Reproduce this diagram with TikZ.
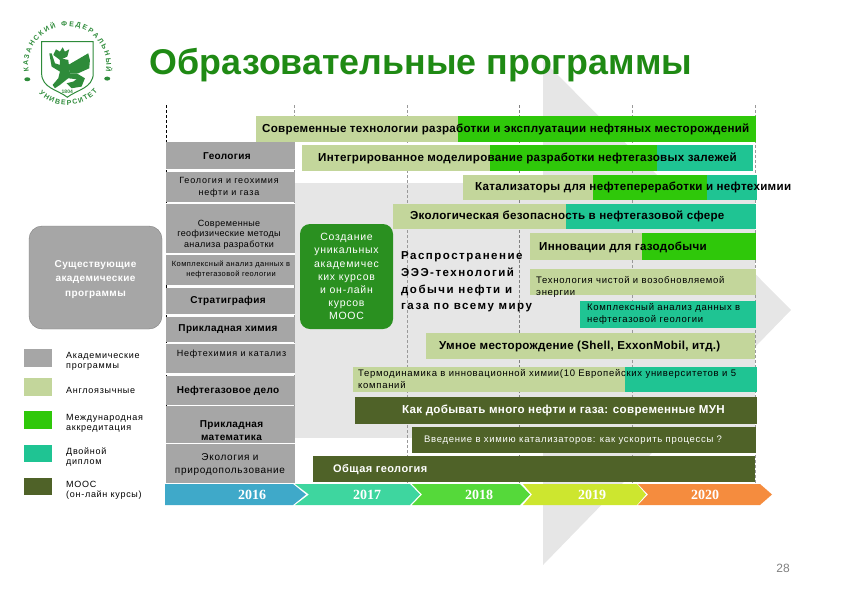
\documentclass[tikz,border=0pt]{standalone}
\usepackage{fontspec}
\setmainfont{Liberation Sans}
\newfontfamily\yearfont{Liberation Serif}
\usetikzlibrary{positioning, calc, decorations.text}

\definecolor{progGray}{HTML}{A6A6A6}
\definecolor{engKhaki}{HTML}{C3D69B}
\definecolor{accGreen}{HTML}{2FC80A}
\definecolor{dualTeal}{HTML}{1FC493}
\definecolor{moocOlive}{HTML}{4F6228}
\definecolor{panelGray}{HTML}{E6E6E6}
\definecolor{titleGreen}{HTML}{1F8A14}
\definecolor{logoGreen}{HTML}{2E8B3A}

\tikzset{
  progbig/.style={inner sep=0pt, align=center, text=black, font=\fontsize{10}{13}\bfseries\addfontfeature{LetterSpace=3.5}},
  progsmall/.style={inner sep=0pt, align=center, text=black, font=\fontsize{9}{12}\selectfont\addfontfeature{LetterSpace=9}},
  barbig/.style={anchor=west, inner sep=0pt, align=left, text=black, font=\fontsize{11.6}{13}\bfseries\addfontfeature{LetterSpace=2.5}},
  barsmall/.style={anchor=west, inner sep=0pt, align=left, text=black, font=\fontsize{9.5}{12}\selectfont\addfontfeature{LetterSpace=7.5}},
  legendbox/.style={anchor=north west, minimum width=28pt, inner sep=0pt},
  legendtext/.style={anchor=west, inner sep=0pt, align=left, font=\fontsize{9}{10}\selectfont\addfontfeature{LetterSpace=8}},
}

\begin{document}
\begin{tikzpicture}[x=1pt, y=-1pt]
\useasboundingbox (0,0) rectangle (842,595);

% background
\fill[panelGray] (543,60) -- (791,310) -- (543,565) -- cycle;
\fill[panelGray] (295,183) rectangle (755,438);
\foreach \xa/\col in {166/black, 294/gray!80, 407/gray!80, 519/gray, 632/gray!80, 755/gray!80}
  \draw[\col, densely dashed, line width=0.6pt] (\xa,105) -- (\xa,483);

% logo
\path[decorate, decoration={text along path, text align={fit to path},
  text={|\fontsize{7}{8}\bfseries\color{logoGreen}|КАЗАНСКИЙ ФЕДЕРАЛЬНЫЙ}}]
  (28.9,71.8) arc[start angle=190, end angle=-10, radius=39pt];
\path[decorate, decoration={text along path, text align={fit to path},
  text={|\fontsize{7}{8}\bfseries\color{logoGreen}|УНИВЕРСИТЕТ}}]
  (39,93.3) arc[start angle=225, end angle=319, radius=40pt];
\begin{scope}[shift={(10,10)}, x=0.333pt, y=-0.333pt]
\draw[logoGreen, line width=1pt] (95,95) -- (250,95) -- (250,190) .. controls (250,235) and (200,240) .. (172,262) .. controls (145,240) and (95,235) .. (95,190) -- cycle;
\fill[logoGreen] (138,118) -- (150,125) -- (158,112) -- (165,125) -- (178,118) -- (172,140) -- (150,150) -- (130,135) -- cycle;
\fill[logoGreen] (175,165) -- (235,130) -- (240,150) -- (238,175) -- (205,190) -- (180,190) -- cycle;
\fill[logoGreen] (150,145) -- (175,150) -- (180,190) -- (200,190) -- (225,205) -- (215,230) -- (185,235) -- (170,220) -- (190,215) -- (200,208) -- (175,205) -- (150,225) -- (135,235) -- (128,225) -- (145,205) -- (150,185) -- (125,170) -- (118,130) -- (125,130) -- (135,160) -- (150,165) -- cycle;
\fill[logoGreen] (52,208) ellipse[x radius=9, y radius=6];
\fill[logoGreen] (292,206) ellipse[x radius=9, y radius=6];
\node[text=logoGreen, inner sep=0pt, font=\fontsize{5}{6}\bfseries] (logoyear) at (172,245) {1804};
\end{scope}

% title
\node[inner sep=0pt, text=titleGreen, font=\fontsize{35.8}{38}\bfseries] (title) at (421,65.5) {Образовательные программы};

% left column
\foreach \ya/\yb in {142/169, 172/202, 204/253, 255/285, 288/314, 317/342, 344/373, 376/405, 406/443, 444/483}
  \fill[progGray] (166,\ya) rectangle (295,\yb);
\node[progbig] (geol) at (227,156) {Геология};
\node[progsmall] (geochem) at (229,187) {Геология и геохимия\\нефти и газа};
\node[progsmall, font=\fontsize{9}{10.5}\selectfont\addfontfeature{LetterSpace=4}] (geophys) at (229,234.5) {Современные\\геофизические методы\\анализа разработки};
\node[progsmall, font=\fontsize{7.5}{10}\selectfont\addfontfeature{LetterSpace=6}] (complexleft) at (231,269) {Комплексный анализ данных в\\нефтегазовой геологии};
\node[progbig] (strat) at (228,301) {Стратиграфия};
\node[progbig] (appchem) at (228,329) {Прикладная химия};
\node[progsmall] (petro) at (231.5,354) {Нефтехимия и катализ};
\node[progbig] (oilgas) at (228,391) {Нефтегазовое дело};
\node[progbig] (appmath) at (231.5,430.5) {Прикладная\\математика};
\node[progbig, font=\fontsize{10}{13}\selectfont\addfontfeature{LetterSpace=7}] (ecology) at (230,464.5) {Экология и\\природопользование};

% existing programmes + legend
\node[draw=gray, fill=progGray, rounded corners=13pt, minimum width=133pt, minimum height=103pt, inner sep=0pt, align=center, text=white, font=\fontsize{10}{14.5}\bfseries\addfontfeature{LetterSpace=4}] (existing) at (95.5,277.5) {\rule{0pt}{11pt}Существующие\\академические\\программы};
\node[legendbox, fill=progGray, minimum height=18pt] (leggray) at (24,349) {};
\node[legendbox, fill=engKhaki, minimum height=18pt] (legkhaki) at (24,378) {};
\node[legendbox, fill=accGreen, minimum height=18pt] (leggreen) at (24,411) {};
\node[legendbox, fill=dualTeal, minimum height=17pt] (legteal) at (24,445) {};
\node[legendbox, fill=moocOlive, minimum height=17pt] (legolive) at (24,478) {};
\node[legendtext] (txtgray) at (66,361) {Академические\\программы};
\node[legendtext] (txtkhaki) at (66,390) {Англоязычные};
\node[legendtext] (txtgreen) at (66,423) {Международная\\аккредитация};
\node[legendtext] (txtteal) at (66,457) {Двойной\\диплом};
\node[legendtext] (txtolive) at (66,490.5) {МООС\\(он-лайн курсы)};

% bars
\foreach \xa/\ya/\xb/\yb/\col in {
  256/116/458/142/engKhaki, 458/116/756/142/accGreen,
  302/145/490/171/engKhaki, 490/145/657/171/accGreen, 657/145/753/171/dualTeal,
  463/175/593/200/engKhaki, 593/175/707/200/accGreen, 707/175/757/200/dualTeal,
  393/204/566/229/engKhaki, 566/204/756/229/dualTeal,
  530/233/642/260/engKhaki, 642/233/756/260/accGreen,
  530/269/756/295/engKhaki,
  580/301/756/328/dualTeal,
  426/333/755/359/engKhaki,
  353/367/625/392/engKhaki, 625/367/757/392/dualTeal,
  355/397/757/424/moocOlive,
  412/427/756/453/moocOlive,
  313/456/755/482/moocOlive}
  \fill[\col] (\xa,\ya) rectangle (\xb,\yb);

\node[barbig] (bartech) at (262,129) {Современные технологии разработки и эксплуатации нефтяных месторождений};
\node[barbig] (barmodel) at (318,158) {Интегрированное моделирование разработки нефтегазовых залежей};
\node[barbig] (barcat) at (475,187) {Катализаторы для нефтепереработки и нефтехимии};
\node[barbig] (barenv) at (410,216) {Экологическая безопасность в нефтегазовой сфере};
\node[barbig] (bargas) at (539,247) {Инновации для газодобычи};
\node[barsmall] (barclean) at (536,287) {Технология чистой и возобновляемой\\энергии};
\node[barsmall] (barcomplex) at (587,314) {Комплексный анализ данных в\\нефтегазовой геологии};
\node[barbig] (barsmart) at (439,346) {Умное месторождение (Shell, ExxonMobil, итд.)};
\node[barsmall] (barthermo) at (358,379) {Термодинамика в инновационной химии(10 Европейских университетов и 5\\компаний};
\node[barbig, text=white] (barmun) at (402,410) {Как добывать много нефти и газа: современные МУН};
\node[barsmall, text=white] (barintro) at (424,440) {Введение в химию катализаторов: как ускорить процессы ?};
\node[barbig, text=white, font=\fontsize{11}{13}\bfseries\addfontfeature{LetterSpace=4}] (bargeo) at (333,470) {Общая геология};

% MOOC box + text
\node[fill=titleGreen!95!white, rounded corners=10pt, minimum width=93pt, minimum height=105pt, inner sep=0pt, align=center, text=white, font=\fontsize{10.5}{13.1}\selectfont\addfontfeature{LetterSpace=7}] (moocbox) at (346.5,276.5) {Создание\\уникальных\\академичес\\ких курсов\\и он-лайн\\курсов\\МООС};
\node[inner sep=0pt, anchor=west, align=left, font=\fontsize{11.5}{16.7}\bfseries\addfontfeature{LetterSpace=13}] (spread) at (401,282) {Распространение\\ЭЭЭ-технологий\\добычи нефти и\\газа по всему миру};

% years
\foreach \xa/\xb/\xc/\xd/\col/\xt/\yr in {
  165/165/293/306/3FA9C9/252/2016,
  295/309/410/420/3ED69F/367/2017,
  412/422/520/530/55D93A/479/2018,
  523/532/637/646/CDE62F/592/2019,
  638/648/760/772/F58C3E/705/2020} {
  \definecolor{yearcol}{HTML}{\col}
  \fill[yearcol] (\xa,484) -- (\xc,484) -- (\xd,494.5) -- (\xc,505) -- (\xa,505) -- (\xb,494.5) -- cycle;
  \node[inner sep=0pt, text=white, font=\yearfont\fontsize{14}{15}\bfseries] (year\yr) at (\xt,494.5) {\yr};
}

\node[inner sep=0pt, text=gray, font=\fontsize{12}{14}\selectfont] (pagenum) at (783,568) {28};
\end{tikzpicture}
\end{document}
